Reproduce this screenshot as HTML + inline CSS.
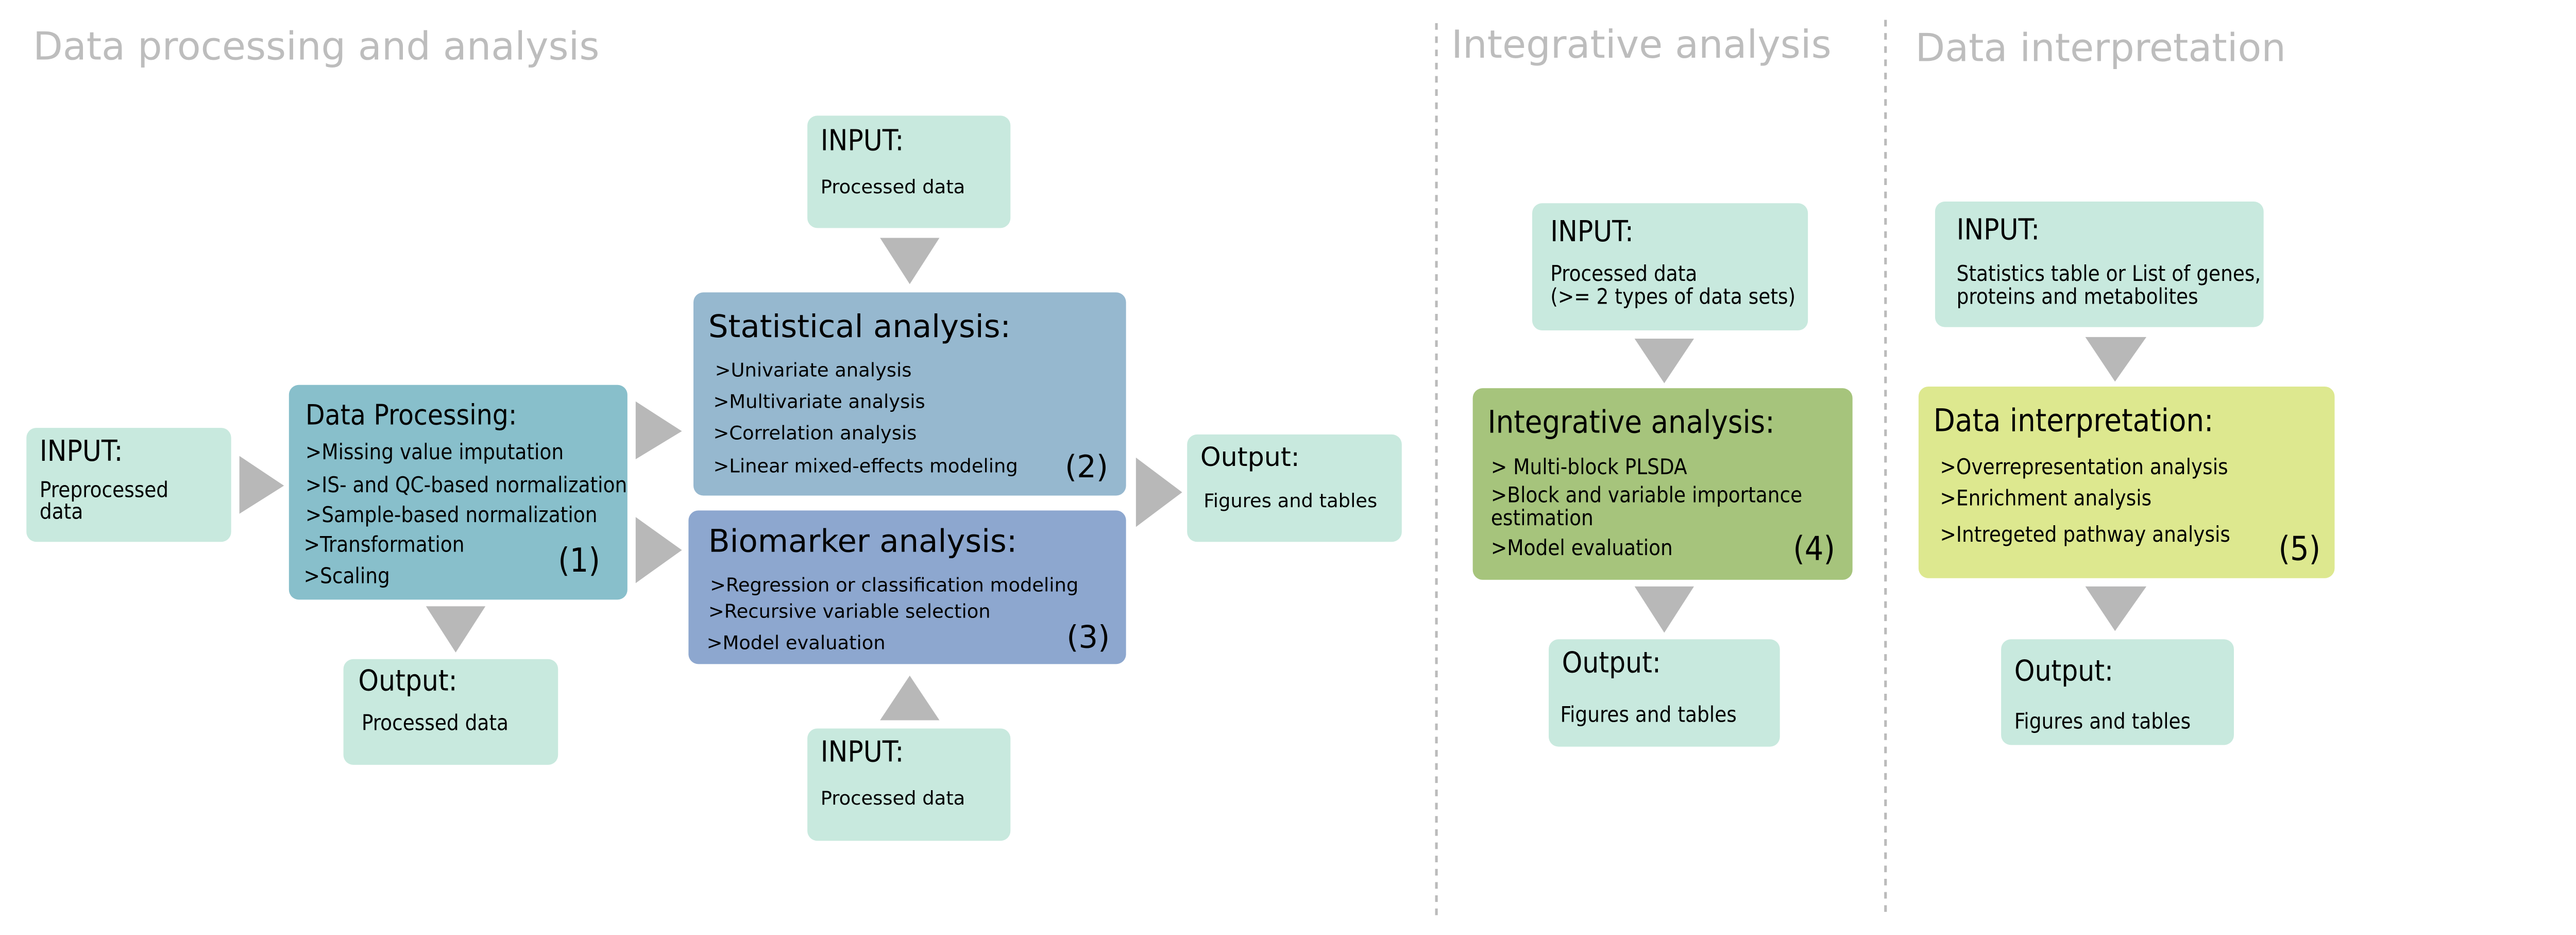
<!DOCTYPE html>
<html><head><meta charset="utf-8"><style>
html,body{margin:0;padding:0;background:#fff;width:5025px;height:1814px;overflow:hidden}
svg{display:block}
text{font-family:"DejaVu Sans","Liberation Sans",sans-serif;fill:#000}
.c{font-family:"DejaVu Sans Condensed","DejaVu Sans",sans-serif}
.t{fill:#bdbdbd;font-size:23.4px}
.h{font-size:17.5px}
.b{font-size:11.5px}
.cb{font-size:13px}
.n{font-size:18.5px}
.cn{font-size:20px}
</style></head><body>
<svg width="5025" height="1814" viewBox="0 0 1568 566" xmlns="http://www.w3.org/2000/svg">
<text class="t" x="20" y="36">Data processing and analysis</text>
<text class="t" x="879" y="35">Integrative analysis</text>
<text class="t" x="1160" y="37">Data interpretation</text>
<line x1="870" y1="14" x2="870" y2="556" stroke="#bbb" stroke-width="1.6" stroke-dasharray="4,4"/>
<line x1="1142" y1="12" x2="1142" y2="556" stroke="#bbb" stroke-width="1.6" stroke-dasharray="4,4"/>
<g fill="#c8e9de">
<rect x="16" y="259" width="124" height="69" rx="6"/>
<rect x="208" y="399" width="130" height="64" rx="6"/>
<rect x="489" y="70" width="123" height="68" rx="6"/>
<rect x="489" y="441" width="123" height="68" rx="6"/>
<rect x="719" y="263" width="130" height="65" rx="6"/>
<rect x="928" y="123" width="167" height="77" rx="6"/>
<rect x="938" y="387" width="140" height="65" rx="6"/>
<rect x="1172" y="122" width="199" height="76" rx="6"/>
<rect x="1212" y="387" width="141" height="64" rx="6"/>
</g>
<rect x="175" y="233" width="205" height="130" rx="6" fill="#88bfcb"/>
<rect x="420" y="177" width="262" height="123" rx="6" fill="#96b8cf"/>
<rect x="417" y="309" width="265" height="93" rx="6" fill="#8da7cf"/>
<rect x="892" y="235" width="230" height="116" rx="6" fill="#a6c47c"/>
<rect x="1162" y="234" width="252" height="116" rx="6" fill="#dde88f"/>
<g fill="#b8b8b8">
<polygon points="145,276 172,294 145,311"/>
<polygon points="385,243 413,261 385,278"/>
<polygon points="385,313 413,333 385,353"/>
<polygon points="258,367 294,367 276,395"/>
<polygon points="533,144 569,144 551,172"/>
<polygon points="551,409 569,436 533,436"/>
<polygon points="688,277 716,298 688,319"/>
<polygon points="990,205 1026,205 1008,232"/>
<polygon points="990,355 1026,355 1008,383"/>
<polygon points="1263,204 1300,204 1281,231"/>
<polygon points="1263,355 1300,355 1281,382"/>
</g>
<text class="h c" x="24" y="279">INPUT:</text>
<text class="cb c" x="24" y="301">Preprocessed</text>
<text class="cb c" x="24" y="314">data</text>
<text class="c" x="185" y="257" font-size="17">Data Processing:</text>
<text class="cb c" x="185" y="278">&gt;Missing value imputation</text>
<text class="cb c" x="185" y="298">&gt;IS- and QC-based normalization</text>
<text class="cb c" x="185" y="316">&gt;Sample-based normalization</text>
<text class="cb c" x="184" y="334">&gt;Transformation</text>
<text class="cb c" x="184" y="353">&gt;Scaling</text>
<text class="cn c" x="338" y="346">(1)</text>
<text class="h c" x="217" y="418">Output:</text>
<text class="cb c" x="219" y="442">Processed data</text>
<text class="h c" x="497" y="91">INPUT:</text>
<text class="b" x="497" y="117">Processed data</text>
<text x="429" y="204" font-size="19">Statistical analysis:</text>
<text class="b" x="433" y="228">&gt;Univariate analysis</text>
<text class="b" x="432" y="247">&gt;Multivariate analysis</text>
<text class="b" x="432" y="266">&gt;Correlation analysis</text>
<text class="b" x="432" y="286">&gt;Linear mixed-effects modeling</text>
<text class="n" x="645" y="289">(2)</text>
<text x="429" y="334" font-size="19">Biomarker analysis:</text>
<text class="b" x="430" y="358">&gt;Regression or classification modeling</text>
<text class="b" x="429" y="374">&gt;Recursive variable selection</text>
<text class="b" x="428" y="393">&gt;Model evaluation</text>
<text class="n" x="646" y="392">(3)</text>
<text class="h c" x="497" y="461">INPUT:</text>
<text class="b" x="497" y="487">Processed data</text>
<text x="727" y="282" font-size="15.8">Output:</text>
<text class="b" x="729" y="307">Figures and tables</text>
<text class="h c" x="939" y="146">INPUT:</text>
<text class="cb c" x="939" y="170">Processed data</text>
<text class="cb c" x="939" y="184">(&gt;= 2 types of data sets)</text>
<text class="c" x="901" y="262" font-size="19">Integrative analysis:</text>
<text class="cb c" x="903" y="287">&gt; Multi-block PLSDA</text>
<text class="cb c" x="903" y="304">&gt;Block and variable importance</text>
<text class="cb c" x="903" y="318">estimation</text>
<text class="cb c" x="903" y="336">&gt;Model evaluation</text>
<text class="cn c" x="1086" y="339">(4)</text>
<text class="h c" x="946" y="407">Output:</text>
<text class="cb c" x="945" y="437">Figures and tables</text>
<text class="h c" x="1185" y="145">INPUT:</text>
<text class="cb c" x="1185" y="170">Statistics table or List of genes,</text>
<text class="cb c" x="1185" y="184">proteins and metabolites</text>
<text class="c" x="1171" y="261" font-size="19">Data interpretation:</text>
<text class="cb c" x="1175" y="287">&gt;Overrepresentation analysis</text>
<text class="cb c" x="1175" y="306">&gt;Enrichment analysis</text>
<text class="cb c" x="1175" y="328">&gt;Intregeted pathway analysis</text>
<text class="cn c" x="1380" y="339">(5)</text>
<text class="h c" x="1220" y="412">Output:</text>
<text class="cb c" x="1220" y="441">Figures and tables</text>
</svg>
</body></html>
